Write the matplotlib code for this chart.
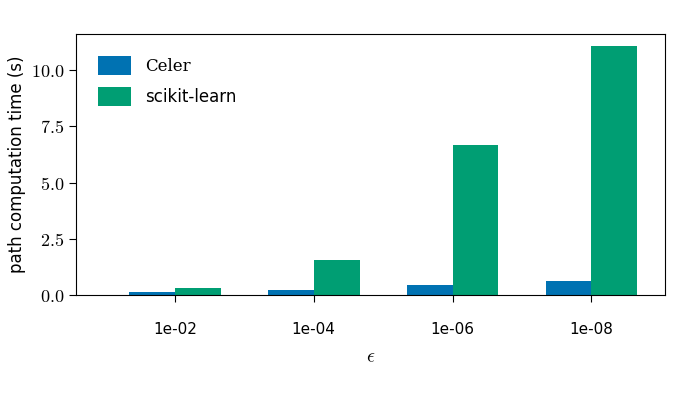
import matplotlib
matplotlib.use("Agg")
import matplotlib.pyplot as plt
import numpy as np

tols = ["1e-02", "1e-04", "1e-06", "1e-08"]
celer_times = [0.15, 0.25, 0.45, 0.65]
sklearn_times = [0.30, 1.55, 6.65, 11.05]

plt.rcParams['font.family'] = ["DejaVu Sans"]
plt.rcParams['mathtext.fontset'] = "cm"

fig = plt.figure(figsize=(7, 4), dpi=100)
ax = fig.add_axes([0.109, 0.262, 0.841, 0.653])

x = np.arange(len(tols))
w = 0.33
ax.bar(x - w / 2, celer_times, w, color="#0072B2", label="Celer")
ax.bar(x + w / 2, sklearn_times, w, color="#009E73", label="scikit-learn")

ax.set_xlim(-0.71, 3.53)
ax.set_ylim(0, 11.6)
ax.set_xticks(x)
ax.set_xticklabels(tols, fontsize=11)
ax.set_yticks([0, 2.5, 5, 7.5, 10])
ax.set_yticklabels([r"$%.1f$" % v for v in [0, 2.5, 5, 7.5, 10]], fontsize=13)
ax.tick_params(direction="out", length=5)
ax.tick_params(axis="x", pad=14)
ax.set_xlabel(r"$\epsilon$", fontsize=14, labelpad=8)
ax.set_ylabel("path computation time (s)", fontsize=12)

leg = ax.legend(loc="upper left", frameon=False, fontsize=12, handlelength=2.0,
                handleheight=1.4, borderaxespad=0.9, labelspacing=0.7)
leg.get_texts()[0].set_family("DejaVu Serif")

fig.savefig("out.png", dpi=100)
